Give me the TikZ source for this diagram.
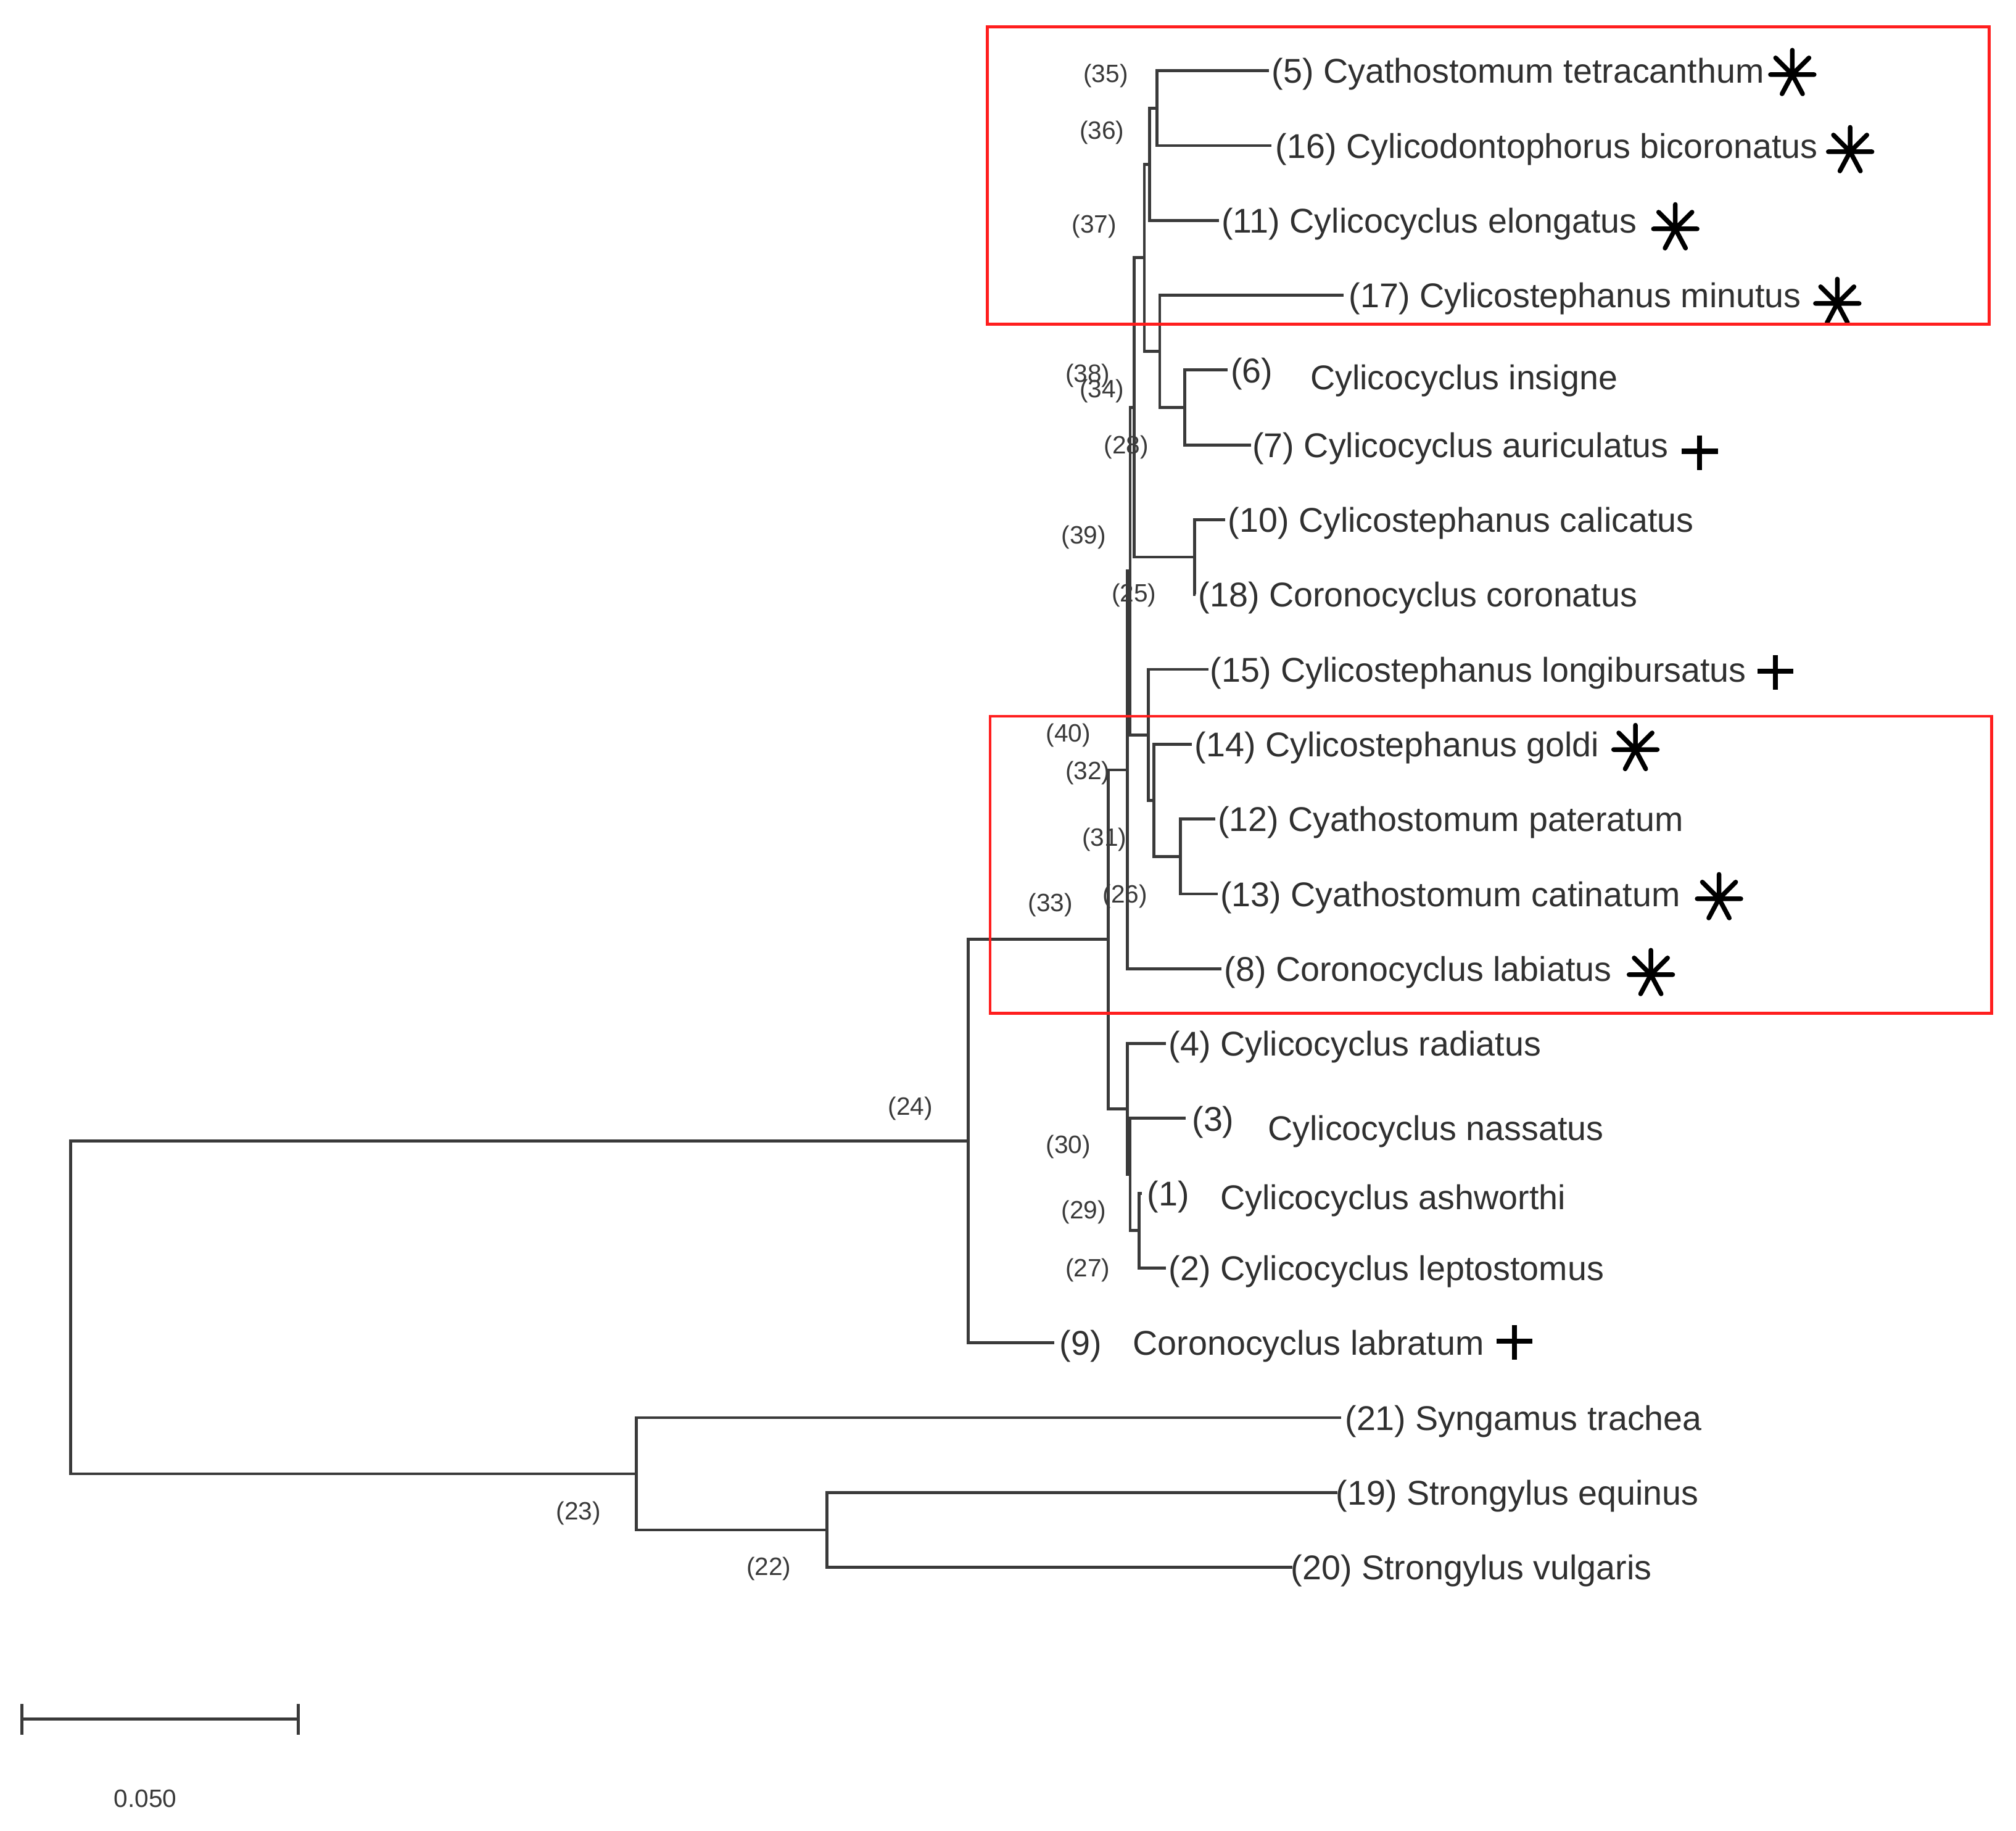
\documentclass[tikz,border=0pt]{standalone}
\usepackage{fontspec}
\setmainfont{Liberation Sans}
\definecolor{treegray}{HTML}{3A3A3A}
\definecolor{txtgray}{HTML}{303030}
\definecolor{lblgray}{HTML}{3A3A3A}
\definecolor{boxred}{HTML}{FF1E1E}
\begin{document}
\begin{tikzpicture}[x=1pt,y=-1pt,
  br/.style={line width=2.3pt, draw=treegray, line join=miter},
  leaf/.style={anchor=west, inner sep=0pt, font=\fontsize{26.7}{30}\selectfont, text=txtgray, text height=25pt, text depth=5.6pt},
  inl/.style={inner sep=0pt, font=\fontsize{19.5}{22}\selectfont, text=lblgray},
  redbox/.style={draw=boxred, line width=2.2pt},
  astar/.pic={\draw[line width=3.6pt, black, line cap=round]
      (0,0)--(0,-19) (0,0)--(-13,-13) (0,0)--(13,-13) (0,0)--(-17,0) (0,0)--(17,0)
      (0,0)--(-8,15) (0,0)--(8,15);},
  aplus/.pic={\draw[line width=4pt, black] (0,-13.5)--(0,13.5) (-14,-1)--(14,-1);}
]
\useasboundingbox (0,0) rectangle (1568,1424);
\fill[white] (0,0) rectangle (1568,1424);
% internal nodes
\coordinate (root) at (55,1016.9);
\coordinate (n24) at (753,887.5);
\coordinate (n23) at (495,1146.25);
\coordinate (n22) at (643,1189.9);
\coordinate (n33) at (862,730.65);
\coordinate (n32) at (877,598.8);
\coordinate (n25) at (879,444.2);
\coordinate (n39) at (882,316.9);
\coordinate (n37) at (890,200.5);
\coordinate (n36) at (894,127.75);
\coordinate (n35) at (900,84.1);
\coordinate (nB) at (902,273.25);
\coordinate (nA) at (921.5,316.9);
\coordinate (nC) at (929,433.3);
\coordinate (n40) at (893,571.5);
\coordinate (n31) at (897.5,622.45);
\coordinate (n26) at (918,666.1);
\coordinate (n30) at (877,862.5);
\coordinate (n29) at (879,913.45);
\coordinate (n27) at (886,957.1);
% leaf ends
\coordinate (l5) at (987,55);
\coordinate (l16) at (989,113.2);
\coordinate (l11) at (948,171.4);
\coordinate (l17) at (1045,229.6);
\coordinate (l6) at (955,287.8);
\coordinate (l7) at (973,346);
\coordinate (l10) at (953,404.2);
\coordinate (l18) at (930,462.4);
\coordinate (l15) at (940,520.6);
\coordinate (l14) at (927,578.8);
\coordinate (l12) at (945,637);
\coordinate (l13) at (947,695.2);
\coordinate (l8) at (950,753.4);
\coordinate (l4) at (907,811.6);
\coordinate (l3) at (922,869.8);
\coordinate (l1) at (888,928);
\coordinate (l2) at (907,986.2);
\coordinate (l9) at (820,1044.4);
\coordinate (l21) at (1043,1102.6);
\coordinate (l19) at (1040,1160.8);
\coordinate (l20) at (1005,1219);
% branches
\foreach \p/\c in {root/n24,root/n23,n23/l21,n23/n22,n22/l19,n22/l20,
  n24/n33,n24/l9,n33/n32,n33/n30,n32/n25,n32/l8,n25/n39,n25/n40,
  n39/n37,n39/nC,n37/n36,n37/nB,n36/n35,n36/l11,n35/l5,n35/l16,
  nB/l17,nB/nA,nA/l6,nA/l7,nC/l10,nC/l18,n40/l15,n40/n31,n31/l14,n31/n26,
  n26/l12,n26/l13,n30/l4,n30/n29,n29/l3,n29/n27,n27/l1,n27/l2}
  \draw[br] (\p) |- (\c);
% leaf labels
\node[leaf] (t5) at (989,55) {(5) Cyathostomum tetracanthum};
\node[leaf] (t16) at (992,113.2) {(16) Cylicodontophorus bicoronatus};
\node[leaf] (t11) at (950,171.4) {(11) Cylicocyclus elongatus};
\node[leaf] (t17) at (1049,229.6) {(17) Cylicostephanus minutus};
\node[leaf] (t6a) at (957,287.8) {(6)};
\node[leaf] (t6b) at (1019,293.5) {Cylicocyclus insigne};
\node[leaf] (t7) at (974,346) {(7) Cylicocyclus auriculatus};
\node[leaf] (t10) at (955,404.2) {(10) Cylicostephanus calicatus};
\node[leaf] (t18) at (932,462.4) {(18) Coronocyclus coronatus};
\node[leaf] (t15) at (941,520.6) {(15) Cylicostephanus longibursatus};
\node[leaf] (t14) at (929,578.8) {(14) Cylicostephanus goldi};
\node[leaf] (t12) at (947,637) {(12) Cyathostomum pateratum};
\node[leaf] (t13) at (949,695.2) {(13) Cyathostomum catinatum};
\node[leaf] (t8) at (952,753.4) {(8) Coronocyclus labiatus};
\node[leaf] (t4) at (909,811.6) {(4) Cylicocyclus radiatus};
\node[leaf] (t3a) at (927,869.8) {(3)};
\node[leaf] (t3b) at (986,877) {Cylicocyclus nassatus};
\node[leaf] (t1a) at (892,928) {(1)};
\node[leaf] (t1b) at (949,931) {Cylicocyclus ashworthi};
\node[leaf] (t2) at (909,986.2) {(2) Cylicocyclus leptostomus};
\node[leaf] (t9a) at (824,1044.4) {(9)};
\node[leaf] (t9b) at (881,1044.4) {Coronocyclus labratum};
\node[leaf] (t21) at (1046,1102.6) {(21) Syngamus trachea};
\node[leaf] (t19) at (1039,1160.8) {(19) Strongylus equinus};
\node[leaf] (t20) at (1004,1219) {(20) Strongylus vulgaris};
% internal labels
\node[inl] (b35) at (860,59) {(35)};
\node[inl] (b36) at (857,103) {(36)};
\node[inl] (b37) at (851,176) {(37)};
\node[inl] (b38) at (846,292) {(38)};
\node[inl] (b34) at (857,304) {(34)};
\node[inl] (b28) at (876,348) {(28)};
\node[inl] (b39) at (843,418) {(39)};
\node[inl] (b25) at (882,463) {(25)};
\node[inl] (b40) at (831,572) {(40)};
\node[inl] (b32) at (846,601) {(32)};
\node[inl] (b31) at (859,653) {(31)};
\node[inl] (b26) at (875,697) {(26)};
\node[inl] (b33) at (817,704) {(33)};
\node[inl] (b24) at (708,862) {(24)};
\node[inl] (b30) at (831,892) {(30)};
\node[inl] (b29) at (843,943) {(29)};
\node[inl] (b27) at (846,988) {(27)};
\node[inl] (b23) at (450,1177) {(23)};
\node[inl] (b22) at (598,1220) {(22)};
% markers
\pic at (1394,58) {astar};
\pic at (1439,118) {astar};
\pic at (1303,178) {astar};
\pic at (1429,236) {astar};
\pic at (1272,583) {astar};
\pic at (1337,699) {astar};
\pic at (1284,758) {astar};
\pic at (1322,352) {aplus};
\pic at (1381,523) {aplus};
\pic at (1178,1044) {aplus};
% red boxes
\draw[redbox] (768,21) rectangle (1547,252);
\draw[redbox] (770,557) rectangle (1549,788);
% scale bar
\coordinate (sL) at (17,1337);
\coordinate (sR) at (232,1337);
\draw[br] (sL) -- (sR);
\draw[br] ([yshift=-12pt]sL) -- ([yshift=12pt]sL);
\draw[br] ([yshift=-12pt]sR) -- ([yshift=12pt]sR);
\node[inl] (scale) at (113,1399) {0.050};
\end{tikzpicture}
\end{document}
